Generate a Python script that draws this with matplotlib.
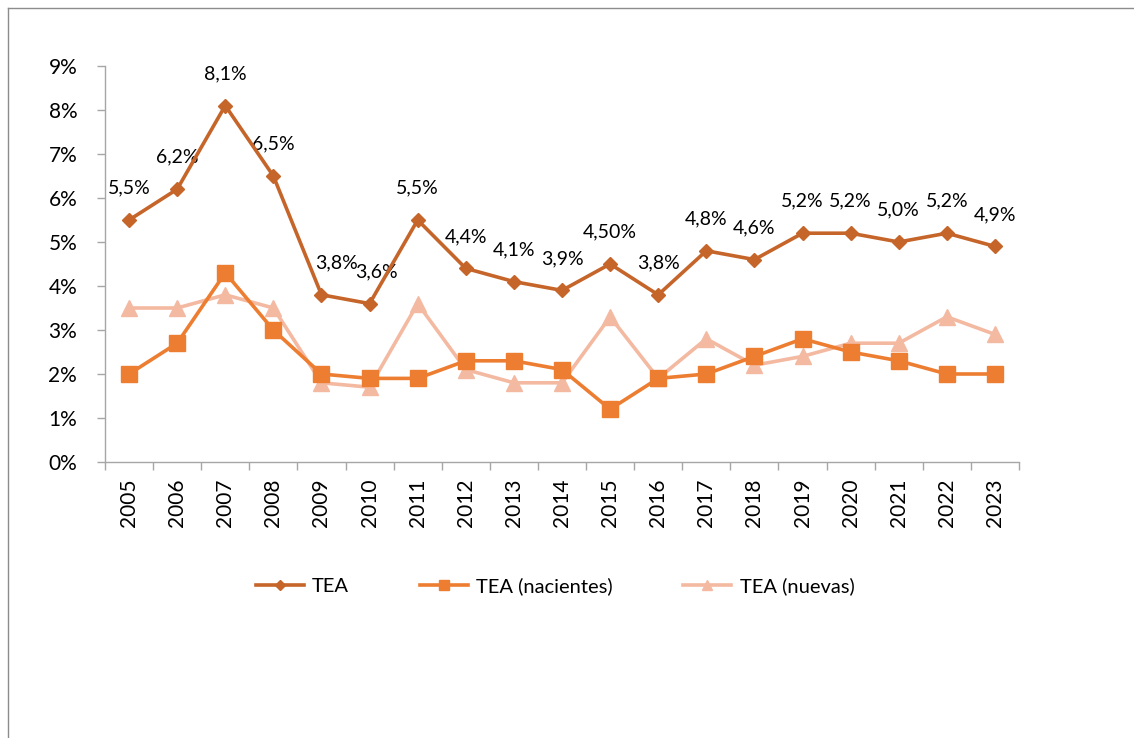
#!/usr/bin/env python3
"""TEA series 2005-2023: line chart with data labels on the main series."""

import matplotlib
matplotlib.use("Agg")
import matplotlib.pyplot as plt
from matplotlib.lines import Line2D
from matplotlib.ticker import FuncFormatter, MultipleLocator

years = [str(y) for y in range(2005, 2024)]
tea = [5.5, 6.2, 8.1, 6.5, 3.8, 3.6, 5.5, 4.4, 4.1, 3.9, 4.5, 3.8, 4.8, 4.6, 5.2, 5.2, 5.0, 5.2, 4.9]
tea_nacientes = [2.0, 2.7, 4.3, 3.0, 2.0, 1.9, 1.9, 2.3, 2.3, 2.1, 1.2, 1.9, 2.0, 2.4, 2.8, 2.5, 2.3, 2.0, 2.0]
tea_nuevas = [3.5, 3.5, 3.8, 3.5, 1.8, 1.7, 3.6, 2.1, 1.8, 1.8, 3.3, 1.9, 2.8, 2.2, 2.4, 2.7, 2.7, 3.3, 2.9]
tea_labels = ["5,5%", "6,2%", "8,1%", "6,5%", "3,8%", "3,6%", "5,5%", "4,4%", "4,1%", "3,9%",
              "4,50%", "3,8%", "4,8%", "4,6%", "5,2%", "5,2%", "5,0%", "5,2%", "4,9%"]
series_names = ["TEA", "TEA (nacientes)", "TEA (nuevas)"]

C_TEA = "#C6652A"
C_NAC = "#ED7D31"
C_NUE = "#F4B9A1"
C_AXIS = "#A6A6A6"

plt.rcParams["font.family"] = ["Lato", "DejaVu Sans"]

fig = plt.figure(figsize=(11.34, 7.38), dpi=100)
ax = fig.add_axes([105 / 1134, 1 - 462 / 738, (1019 - 105) / 1134, (462 - 66) / 738])

x = list(range(len(years)))
styles = [(tea, C_TEA, "D", 7.5, 5), (tea_nacientes, C_NAC, "s", 11, 4), (tea_nuevas, C_NUE, "^", 12, 3)]
for (vals, col, mk, ms, z), name in zip(styles, series_names):
    ax.plot(x, vals, color=col, lw=2.6, marker=mk, ms=ms, label=name, zorder=z)

# small horizontal nudges where labels were moved in the original
label_dx = {4: 11, 5: 5}
for i, (v, lab) in enumerate(zip(tea, tea_labels)):
    ax.annotate(lab, (i, v), xytext=(label_dx.get(i, 0), 23), textcoords="offset points",
                ha="center", va="center", fontsize=14, color="#000000")

ax.set_xlim(-0.5, len(years) - 0.5)
ax.set_ylim(0, 9)
ax.yaxis.set_major_locator(MultipleLocator(1))
ax.yaxis.set_major_formatter(FuncFormatter(lambda v, _: f"{v:.0f}%"))
ax.set_xticks(x)
ax.set_xticklabels(years, rotation=90)
ax.set_xticks([i - 0.5 for i in range(len(years) + 1)], minor=True)
ax.tick_params(axis="x", which="major", length=0, pad=12, labelsize=15)
ax.tick_params(axis="x", which="minor", length=6, color=C_AXIS, width=1)
ax.tick_params(axis="y", length=6, color=C_AXIS, width=1, pad=14, labelsize=15)

for side in ("top", "right"):
    ax.spines[side].set_visible(False)
for side in ("left", "bottom"):
    ax.spines[side].set_color(C_AXIS)
    ax.spines[side].set_linewidth(1)

# legend keys use smaller markers than the plotted lines
handles = [Line2D([], [], color=col, lw=2.6, marker=mk, ms=ms * 0.65)
           for (_, col, mk, ms, _) in styles]
fig.legend(handles, series_names, loc="center", bbox_to_anchor=(555 / 1134, 1 - 586 / 738),
           ncol=3, frameon=False, fontsize=14.5, handlelength=2.4, columnspacing=3.5,
           handletextpad=0.4)

# outer chart frame (only top and left edges are visible in the original)
fig.add_artist(Line2D([8 / 1134, 8 / 1134], [0, 1 - 8 / 738], transform=fig.transFigure,
                      color="#8C8C8C", lw=1))
fig.add_artist(Line2D([8 / 1134, 1], [1 - 8 / 738, 1 - 8 / 738], transform=fig.transFigure,
                      color="#8C8C8C", lw=1))

fig.savefig("out.png", dpi=100)
